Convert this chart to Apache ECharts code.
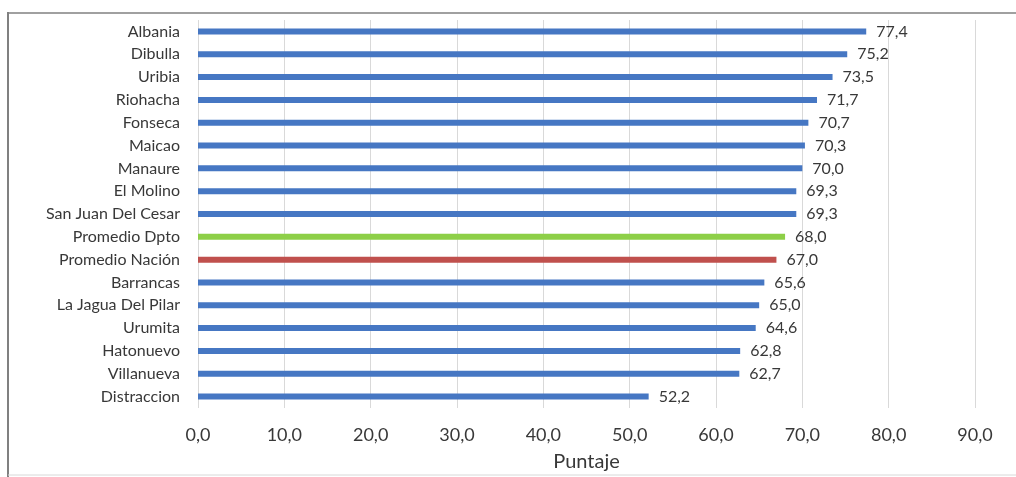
<!DOCTYPE html>
<html>
<head>
<meta charset="utf-8">
<script src="https://cdn.jsdelivr.net/npm/echarts@6/dist/echarts.min.js"></script>
<style>
  html, body { margin: 0; padding: 0; background: #ffffff; }
  #chart { width: 1016px; height: 477px; }
</style>
</head>
<body>
<div id="chart"></div>
<script>
// Municipios y promedios, de arriba hacia abajo
const municipios = [
  'Albania', 'Dibulla', 'Uribia', 'Riohacha', 'Fonseca', 'Maicao', 'Manaure',
  'El Molino', 'San Juan Del Cesar', 'Promedio Dpto', 'Promedio Nación',
  'Barrancas', 'La Jagua Del Pilar', 'Urumita', 'Hatonuevo', 'Villanueva', 'Distraccion'
];
const puntajes = [77.4, 75.2, 73.5, 71.7, 70.7, 70.3, 70.0, 69.3, 69.3, 68.0, 67.0,
  65.6, 65.0, 64.6, 62.8, 62.7, 52.2];
const ticksPuntaje = [0, 10, 20, 30, 40, 50, 60, 70, 80, 90];

const colorMunicipio = '#4677c3';
const colorEspecial = {
  'Promedio Dpto': '#8dcf47',
  'Promedio Nación': '#c0504d'
};

const fmt = v => Number(v).toFixed(1).replace('.', ',');
const fuente = 'Lato, "Open Sans", sans-serif';
const gris = '#383838';

const chart = echarts.init(document.getElementById('chart'), null, { renderer: 'canvas' });

chart.setOption({
  backgroundColor: '#ffffff',
  animation: false,
  grid: { left: 198, right: 41, top: 20, bottom: 67, containLabel: false },
  xAxis: {
    type: 'value',
    min: ticksPuntaje[0],
    max: ticksPuntaje[ticksPuntaje.length - 1],
    interval: 10,
    axisLine: { show: false },
    axisTick: { show: false },
    splitLine: { show: true, lineStyle: { color: '#d9d9d9', width: 1 } },
    axisLabel: {
      formatter: fmt,
      fontFamily: fuente,
      fontSize: 18,
      color: gris,
      margin: 18
    },
    name: 'Puntaje',
    nameLocation: 'middle',
    nameGap: 44,
    nameTextStyle: { fontFamily: fuente, fontSize: 20, color: gris }
  },
  yAxis: {
    type: 'category',
    data: municipios,
    inverse: true,
    axisLine: { show: false },
    axisTick: { show: false },
    splitLine: { show: false },
    axisLabel: {
      fontFamily: fuente,
      fontSize: 16,
      color: gris,
      margin: 18
    }
  },
  series: [{
    type: 'bar',
    barWidth: 6,
    data: municipios.map((m, i) => ({
      value: puntajes[i],
      itemStyle: { color: colorEspecial[m] || colorMunicipio }
    })),
    label: {
      show: true,
      position: 'right',
      distance: 10,
      formatter: p => fmt(p.value),
      fontFamily: fuente,
      fontSize: 16,
      color: gris
    }
  }],
  graphic: [
    // marco exterior del gráfico
    { type: 'line', shape: { x1: 8, y1: 13, x2: 1016, y2: 13 }, style: { stroke: '#a0a0a0', lineWidth: 2 } },
    { type: 'line', shape: { x1: 8, y1: 12, x2: 8, y2: 477 }, style: { stroke: '#808080', lineWidth: 2 } },
    { type: 'line', shape: { x1: 8, y1: 475, x2: 1016, y2: 475 }, style: { stroke: '#d8d8d8', lineWidth: 1 } }
  ]
});
</script>
</body>
</html>
